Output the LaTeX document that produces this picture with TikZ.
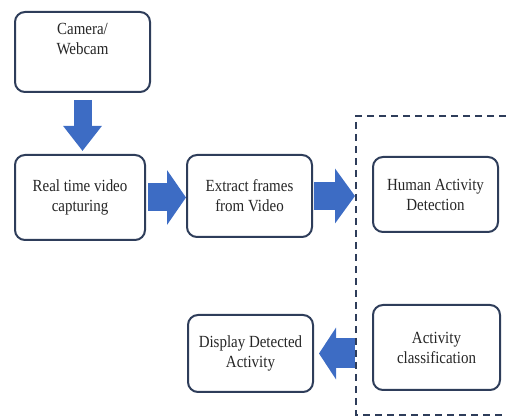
\documentclass[tikz,border=0pt]{standalone}
\usepackage{fontspec}
\setmainfont{Liberation Serif}[FakeStretch = 0.88]
\usetikzlibrary{arrows.meta,positioning}
\definecolor{boxline}{HTML}{2E3D5A}
\definecolor{flowblue}{HTML}{3D6CC4}
\tikzset{
  stagebox/.style = {draw = boxline, line width = 2pt, rounded corners = 10pt, fill = white},
  stagetext/.style = {align = center, font = \rmfamily\fontsize{17}{20}\selectfont, inner sep = 0pt, text = black!85},
  blockarrow/.style = {draw = flowblue, line width = #1}
}
\begin{document}
\begin{tikzpicture}[x = 1pt, y = -1pt]
\useasboundingbox (0,0) rectangle (506,419);
% stages
\node[stagebox, minimum width = 135pt, minimum height = 80pt] (cam) at (82.5,52) {};
\node[stagetext, below = 12pt of cam.north] (camtext) {Camera/\\Webcam};
\node[stagebox, stagetext, minimum width = 130pt, minimum height = 85pt] (capture) at (80,197.5) {Real time video\\capturing};
\node[stagebox, stagetext, minimum width = 125pt, minimum height = 82pt] (frames) at (249.5,196) {Extract frames\\from Video};
\node[stagebox, stagetext, minimum width = 125pt, minimum height = 75pt] (detect) at (435.5,194.5) {Human Activity\\Detection};
\node[stagebox, stagetext, minimum width = 127pt, minimum height = 85pt] (classify) at (436.5,347.5) {Activity\\classification};
\node[stagebox, stagetext, minimum width = 125pt, minimum height = 77pt] (display) at (250.5,353.5) {Display Detected\\Activity};
% dashed frame round the recognition part
\coordinate (frameL) at (356,116);
\draw[boxline, line width = 2.2pt, dash pattern = on 7pt off 5pt] (506,116) -| (356,415) -- (506,415);
% block arrows
\draw[blockarrow = 18pt, -{Triangle[width = 37pt, length = 25pt]}, shorten < = 7pt, shorten > = 3pt] (cam.south) -- (cam.south |- capture.north);
\draw[blockarrow = 28pt, -{Triangle[width = 54pt, length = 19pt]}, shorten < = 2pt] (capture.east) -- (capture.east -| frames.west);
\draw[blockarrow = 28pt, -{Triangle[width = 54pt, length = 20pt]}, shorten < = 1pt, shorten > = 1pt] (frames.east) -- (frames.east -| frameL);
\draw[blockarrow = 30pt, -{Triangle[width = 51pt, length = 17pt]}, shorten < = 1pt, shorten > = 5pt] (display.east -| frameL) -- (display.east);
\end{tikzpicture}
\end{document}
